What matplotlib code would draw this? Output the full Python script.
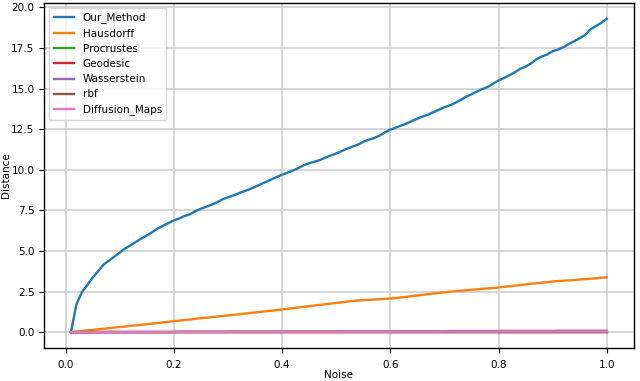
import matplotlib
matplotlib.use('Agg')
import matplotlib.pyplot as plt
import numpy as np

noise = np.round(np.arange(1, 101) * 0.01, 2)

our_method = [
    0.00, 1.70, 2.45, 2.90, 3.35, 3.75, 4.15, 4.40, 4.65, 4.90,
    5.15, 5.35, 5.55, 5.77, 5.95, 6.15, 6.38, 6.55, 6.72, 6.88,
    7.00, 7.15, 7.26, 7.45, 7.60, 7.72, 7.85, 8.00, 8.18, 8.30,
    8.42, 8.55, 8.68, 8.80, 8.95, 9.10, 9.25, 9.40, 9.55, 9.70,
    9.82, 9.95, 10.10, 10.28, 10.40, 10.50, 10.60, 10.75, 10.88, 11.00,
    11.15, 11.30, 11.42, 11.55, 11.72, 11.85, 11.95, 12.10, 12.30, 12.47,
    12.60, 12.72, 12.85, 13.00, 13.15, 13.28, 13.40, 13.55, 13.70, 13.85,
    13.97, 14.12, 14.30, 14.50, 14.65, 14.82, 14.97, 15.10, 15.30, 15.50,
    15.65, 15.82, 16.00, 16.22, 16.35, 16.55, 16.80, 16.98, 17.10, 17.30,
    17.40, 17.55, 17.75, 17.92, 18.10, 18.30, 18.65, 18.85, 19.05, 19.30,
]

hausdorff = [
    0.00, 0.04, 0.07, 0.11, 0.14, 0.18, 0.21, 0.25, 0.28, 0.32,
    0.35, 0.39, 0.42, 0.46, 0.49, 0.53, 0.56, 0.60, 0.64, 0.68,
    0.71, 0.75, 0.78, 0.82, 0.86, 0.89, 0.93, 0.96, 1.00, 1.03,
    1.07, 1.10, 1.14, 1.18, 1.21, 1.25, 1.29, 1.32, 1.36, 1.40,
    1.44, 1.48, 1.52, 1.56, 1.60, 1.64, 1.68, 1.72, 1.76, 1.80,
    1.84, 1.88, 1.92, 1.95, 1.97, 1.99, 2.01, 2.03, 2.05, 2.07,
    2.10, 2.14, 2.18, 2.22, 2.26, 2.30, 2.34, 2.38, 2.42, 2.46,
    2.49, 2.52, 2.55, 2.58, 2.61, 2.64, 2.67, 2.70, 2.72, 2.75,
    2.79, 2.83, 2.86, 2.90, 2.94, 2.98, 3.01, 3.05, 3.08, 3.12,
    3.15, 3.17, 3.19, 3.21, 3.24, 3.27, 3.29, 3.32, 3.35, 3.38,
]

procrustes = [
    0.00, 0.00, 0.00, 0.00, 0.00, 0.00, 0.00, 0.00, 0.00, 0.00,
    0.00, 0.00, 0.00, 0.00, 0.00, 0.00, 0.00, 0.00, 0.00, 0.00,
    0.00, 0.00, 0.00, 0.00, 0.00, 0.00, 0.00, 0.00, 0.00, 0.00,
    0.00, 0.00, 0.00, 0.00, 0.00, 0.00, 0.00, 0.00, 0.00, 0.00,
    0.00, 0.00, 0.00, 0.00, 0.00, 0.00, 0.00, 0.00, 0.00, 0.00,
    0.00, 0.00, 0.00, 0.00, 0.00, 0.00, 0.00, 0.00, 0.00, 0.00,
    0.00, 0.00, 0.00, 0.00, 0.00, 0.00, 0.00, 0.00, 0.00, 0.00,
    0.00, 0.00, 0.00, 0.00, 0.00, 0.00, 0.00, 0.00, 0.00, 0.00,
    0.00, 0.00, 0.00, 0.00, 0.00, 0.00, 0.00, 0.00, 0.00, 0.00,
    0.00, 0.00, 0.00, 0.00, 0.00, 0.00, 0.00, 0.00, 0.00, 0.00,
]

geodesic = [
    0.00, 0.00, 0.00, 0.00, 0.00, 0.00, 0.00, 0.00, 0.00, 0.00,
    0.00, 0.00, 0.00, 0.00, 0.00, 0.00, 0.00, 0.00, 0.00, 0.00,
    0.01, 0.01, 0.01, 0.01, 0.01, 0.01, 0.01, 0.01, 0.01, 0.01,
    0.01, 0.01, 0.01, 0.01, 0.01, 0.01, 0.01, 0.01, 0.01, 0.01,
    0.01, 0.01, 0.01, 0.01, 0.01, 0.01, 0.01, 0.01, 0.01, 0.01,
    0.01, 0.01, 0.01, 0.01, 0.01, 0.01, 0.01, 0.01, 0.01, 0.01,
    0.01, 0.01, 0.01, 0.01, 0.01, 0.01, 0.01, 0.01, 0.01, 0.01,
    0.01, 0.01, 0.01, 0.01, 0.01, 0.01, 0.01, 0.01, 0.01, 0.01,
    0.01, 0.01, 0.01, 0.01, 0.01, 0.01, 0.01, 0.01, 0.01, 0.01,
    0.01, 0.01, 0.01, 0.01, 0.01, 0.01, 0.01, 0.01, 0.01, 0.01,
]

wasserstein = [
    0.00, 0.00, 0.00, 0.00, 0.00, 0.00, 0.00, 0.01, 0.01, 0.01,
    0.01, 0.01, 0.01, 0.01, 0.01, 0.01, 0.01, 0.01, 0.01, 0.02,
    0.02, 0.02, 0.02, 0.02, 0.02, 0.02, 0.02, 0.02, 0.02, 0.02,
    0.03, 0.03, 0.03, 0.03, 0.03, 0.03, 0.03, 0.03, 0.03, 0.03,
    0.04, 0.04, 0.04, 0.04, 0.04, 0.04, 0.04, 0.04, 0.04, 0.04,
    0.05, 0.05, 0.05, 0.05, 0.05, 0.05, 0.05, 0.05, 0.05, 0.05,
    0.06, 0.06, 0.06, 0.06, 0.06, 0.06, 0.06, 0.06, 0.06, 0.06,
    0.07, 0.07, 0.07, 0.07, 0.07, 0.07, 0.07, 0.07, 0.07, 0.07,
    0.08, 0.08, 0.08, 0.08, 0.08, 0.08, 0.08, 0.08, 0.08, 0.08,
    0.09, 0.09, 0.09, 0.09, 0.09, 0.09, 0.09, 0.09, 0.09, 0.09,
]

rbf = [
    0.00, 0.00, 0.00, 0.00, 0.00, 0.00, 0.00, 0.00, 0.00, 0.00,
    0.00, 0.00, 0.00, 0.00, 0.00, 0.00, 0.00, 0.00, 0.00, 0.00,
    0.00, 0.00, 0.00, 0.00, 0.00, 0.00, 0.00, 0.00, 0.00, 0.00,
    0.00, 0.00, 0.00, 0.00, 0.00, 0.00, 0.00, 0.00, 0.00, 0.00,
    0.00, 0.00, 0.00, 0.00, 0.00, 0.00, 0.00, 0.00, 0.00, 0.00,
    0.00, 0.00, 0.00, 0.00, 0.00, 0.00, 0.00, 0.00, 0.00, 0.00,
    0.00, 0.00, 0.00, 0.00, 0.00, 0.00, 0.00, 0.00, 0.00, 0.00,
    0.00, 0.00, 0.00, 0.00, 0.00, 0.00, 0.00, 0.00, 0.00, 0.00,
    0.00, 0.00, 0.00, 0.00, 0.00, 0.00, 0.00, 0.00, 0.00, 0.00,
    0.00, 0.00, 0.00, 0.00, 0.00, 0.00, 0.00, 0.00, 0.00, 0.00,
]

diffusion_maps = [
    0.00, 0.00, 0.00, 0.00, 0.00, 0.00, 0.00, 0.00, 0.00, 0.00,
    0.00, 0.00, 0.00, 0.00, 0.00, 0.00, 0.00, 0.00, 0.00, 0.01,
    0.01, 0.01, 0.01, 0.01, 0.01, 0.01, 0.01, 0.01, 0.01, 0.01,
    0.01, 0.01, 0.01, 0.01, 0.01, 0.01, 0.01, 0.01, 0.01, 0.01,
    0.02, 0.02, 0.02, 0.02, 0.02, 0.02, 0.02, 0.02, 0.02, 0.02,
    0.02, 0.02, 0.02, 0.02, 0.02, 0.02, 0.02, 0.02, 0.02, 0.02,
    0.03, 0.03, 0.03, 0.03, 0.03, 0.03, 0.03, 0.03, 0.03, 0.03,
    0.03, 0.03, 0.03, 0.03, 0.03, 0.03, 0.03, 0.03, 0.03, 0.03,
    0.04, 0.04, 0.04, 0.04, 0.04, 0.04, 0.04, 0.04, 0.04, 0.04,
    0.04, 0.04, 0.04, 0.04, 0.04, 0.04, 0.04, 0.04, 0.04, 0.04,
]

series = [
    ('Our_Method', our_method),
    ('Hausdorff', hausdorff),
    ('Procrustes', procrustes),
    ('Geodesic', geodesic),
    ('Wasserstein', wasserstein),
    ('rbf', rbf),
    ('Diffusion_Maps', diffusion_maps),
]

plt.rc('font', size=7.5)
fig, ax = plt.subplots(figsize=(6.4, 3.81), dpi=100)
fig.subplots_adjust(left=0.069, right=0.99, top=0.992, bottom=0.087)

for name, vals in series:
    ax.plot(noise, vals, label=name, linewidth=1.7)

ax.set_xlabel('Noise', labelpad=0)
ax.set_ylabel('Distance', labelpad=0)
ax.tick_params(axis='x', pad=5)
for sp in ax.spines.values():
    sp.set_linewidth(1.0)
ax.grid(True, color='#cccccc', linewidth=1.1)
ax.legend(loc='upper left')
fig.savefig('out.png', dpi=100)
